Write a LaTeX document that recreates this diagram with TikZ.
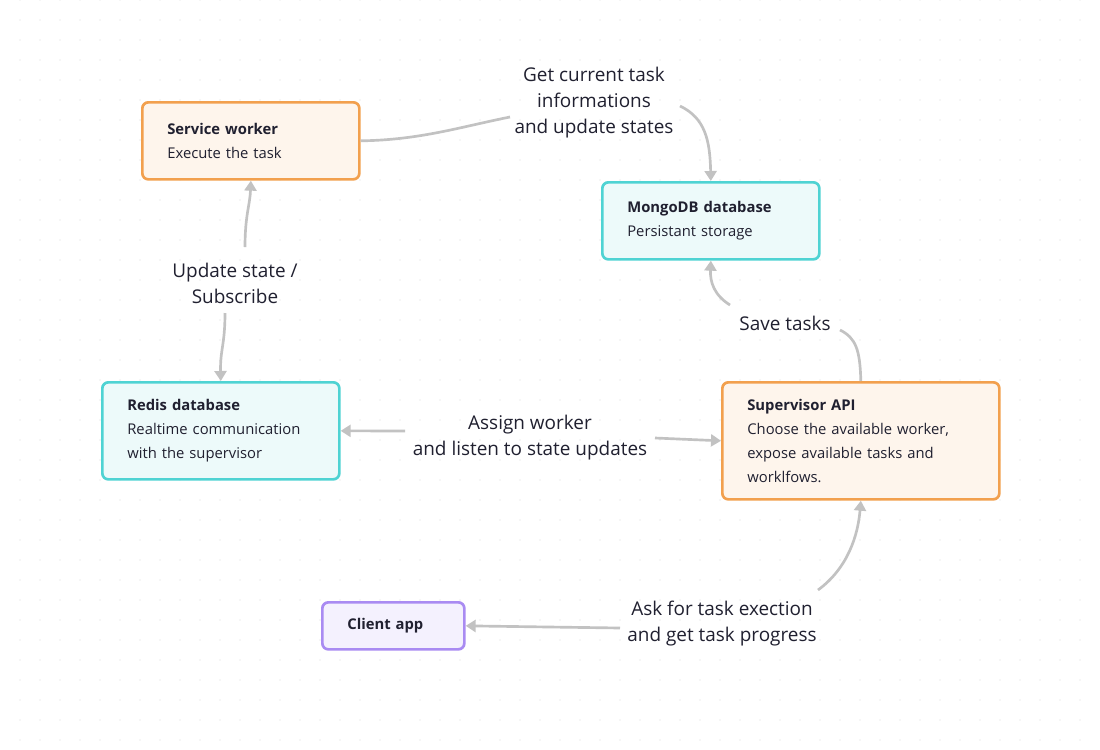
\documentclass[tikz,border=0pt]{standalone}
\usepackage{fontspec}
\setmainfont{Open Sans}
\usetikzlibrary{arrows.meta}

\definecolor{txt}{HTML}{202030}
\definecolor{edgegray}{HTML}{C2C2C2}
\definecolor{dotgray}{HTML}{DCDCDC}
\definecolor{orangeline}{HTML}{F2A04E}
\definecolor{orangefill}{HTML}{FEF5EC}
\definecolor{tealline}{HTML}{4FD3D3}
\definecolor{tealfill}{HTML}{EDFAFA}
\definecolor{purpleline}{HTML}{A98BF2}
\definecolor{purplefill}{HTML}{F4F1FE}

\newlength{\pxu}\setlength{\pxu}{0.75pt}
\newcommand{\boxfont}{\fontsize{11.1}{18}\selectfont}
\newcommand{\lblfont}{\fontsize{14.2}{19.5}\selectfont}

\begin{document}
\begin{tikzpicture}[x=0.75pt,y=-0.75pt]
  \tikzset{box/.style = {draw=#1line,fill=#1fill,line width=2pt,rounded corners=4.5pt,
      anchor=north west,align=left,inner xsep=25\pxu,inner ysep=0pt,text=txt,font=\boxfont}}
  \tikzset{lbl/.style = {align=center,text=txt,font=\lblfont}}
  \tikzset{line/.style = {draw=edgegray,line width=2pt}}
  \tikzset{edge/.style = {line,-{Triangle[width=9pt,length=7.5pt]}}}

  \useasboundingbox (0,0) rectangle (1100,750);
  \fill[white] (0,0) rectangle (1100,750);
  \foreach \i in {1,...,54}
    \foreach \j in {0,...,37}
      \fill[dotgray] (\i*20,\j*20) circle (0.5pt);

  % boxes
  \node[box=orange,text width=167\pxu,minimum height=77\pxu] (SW) at (141,101)
    {\textbf{Service worker}\\Execute the task};
  \node[box=teal,text width=167\pxu,minimum height=77\pxu] (MDB) at (601,181)
    {\textbf{MongoDB database}\\Persistant storage};
  \node[box=teal,text width=187\pxu,minimum height=97\pxu] (RDS) at (101,381)
    {\textbf{Redis database}\\Realtime communication\\with the supervisor};
  \node[box=orange,text width=227\pxu,minimum height=117\pxu] (SUP) at (721,381)
    {\textbf{Supervisor API}\\Choose the available worker,\\expose available tasks and\\worklfows.};
  \node[box=purple,text width=92\pxu,minimum height=47\pxu] (CLI) at (321,601)
    {\textbf{Client app}};

  % labels
  \node[lbl] (L1) at (594,103) {Get current task\\informations\\and update states};
  \node[lbl] (L2) at (235,283) {Update state /\\Subscribe};
  \node[lbl] (L3) at (785,323) {Save tasks};
  \node[lbl] (L4) at (530,438) {Assign worker\\and listen to state updates};
  \node[lbl] (L5) at (722,624) {Ask for task exection\\and get task progress};

  % free ends next to the labels
  \coordinate (a1) at (510,117);
  \coordinate (a2) at (680,106);
  \coordinate (b1) at (245,247);
  \coordinate (b2) at (225,313);
  \coordinate (c1) at (840,330);
  \coordinate (c2) at (730,305);
  \coordinate (d1) at (405,431);
  \coordinate (d2) at (655,438);
  \coordinate (e1) at (620,628);
  \coordinate (e2) at (818,590);

  \draw[line] (SW.east) .. controls (420,140) and (460,127) .. (a1);
  \draw[edge] (a2) .. controls (705,118) and (710,140) .. (MDB.north);
  \draw[edge] (b1) .. controls (245,215) and (250,205) .. (SW.south);
  \draw[edge] (b2) .. controls (225,345) and (220,350) .. (RDS.north);
  \draw[line] (SUP.north) .. controls (860,350) and (856,338) .. (c1);
  \draw[edge] (c2) .. controls (714,295) and (710,282) .. (MDB.south);
  \draw[edge] (e2) .. controls (848,568) and (858,535) .. (SUP.south);

  \foreach \from/\to in {d1/RDS.east,d2/SUP.west,e1/CLI.east}
    \draw[edge] (\from) -- (\to);
\end{tikzpicture}
\end{document}
